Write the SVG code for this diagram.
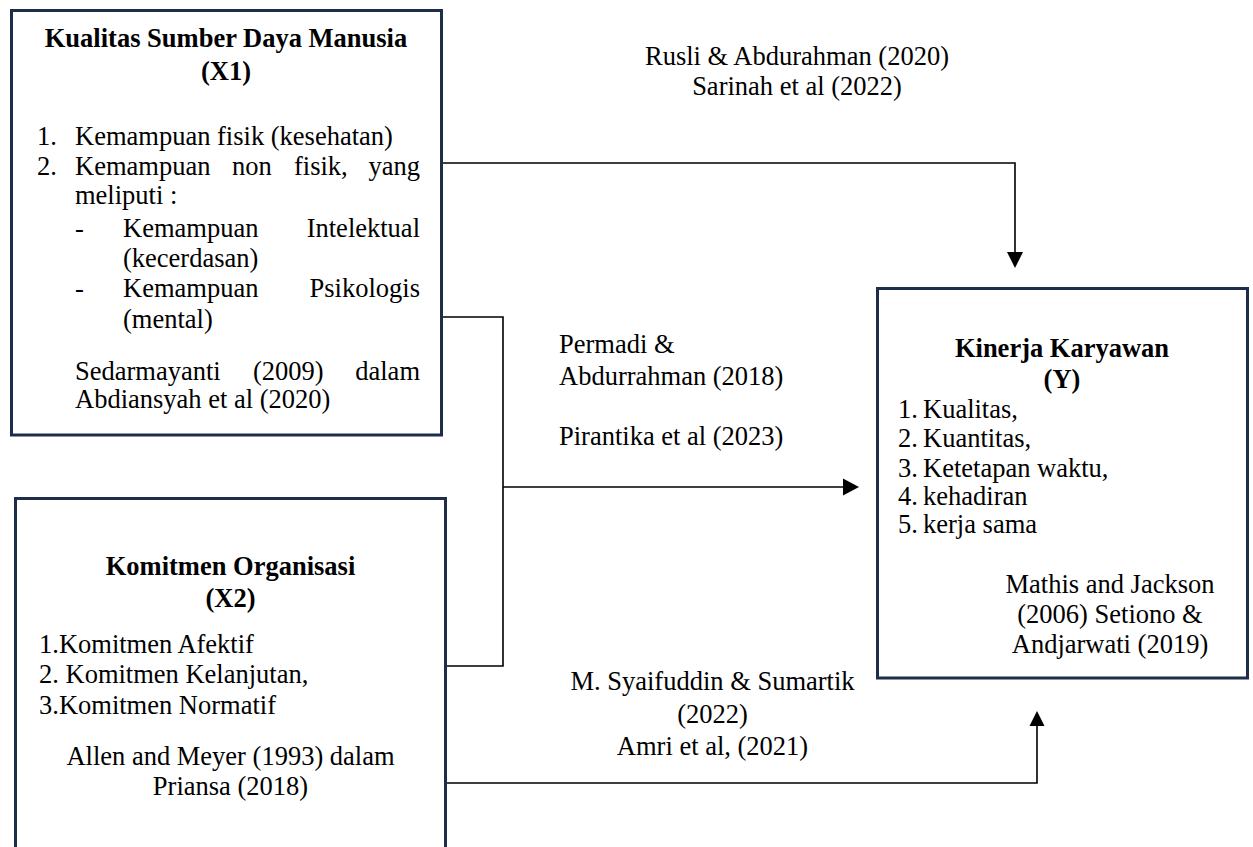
<svg xmlns="http://www.w3.org/2000/svg" width="1253" height="847" viewBox="0 0 1253 847">
<style>
.box{fill:#fff;stroke:#1d2d4a;stroke-width:3}
text{font-family:"Liberation Serif","Times New Roman",serif;font-size:26.5px;fill:#000}
.b{font-weight:bold}
.c{text-anchor:middle}
.e{text-anchor:end}
.ln{fill:none;stroke:#000;stroke-width:1.6}
</style>
<defs>
<marker id="ah" viewBox="0 0 10 10" refX="10" refY="5" markerWidth="10" markerHeight="10" markerUnits="userSpaceOnUse" orient="auto">
<path d="M0,0 L10,5 L0,10 Z" fill="#000"/>
</marker>
</defs>
<rect width="1253" height="847" fill="#fff"/>
<g id="connectors">
<polyline class="ln" points="442,163 1015,163 1015,252"/>
<path d="M1007,252 L1023,252 L1015,268 Z" fill="#000"/>
<polyline class="ln" points="442,317 503,317 503,666 445,666"/>
<line class="ln" x1="503" y1="487" x2="844" y2="487"/>
<path d="M843,478.5 L859,487 L843,495.5 Z" fill="#000"/>
<polyline class="ln" points="446,783 1037,783 1037,726"/>
<path d="M1029.5,726 L1044.5,726 L1037,711 Z" fill="#000"/>
</g>
<g id="node-x1">
<rect class="box" x="11.5" y="10.5" width="430" height="424.5"/>
<text class="b c" x="226" y="47">Kualitas Sumber Daya Manusia</text>
<text class="b c" x="226" y="80">(X1)</text>
<text x="37" y="145">1.</text>
<text x="75" y="145">Kemampuan fisik (kesehatan)</text>
<text x="37" y="175">2.</text>
<text x="75" y="175">Kemampuan</text>
<text x="232" y="175">non</text>
<text x="294" y="175">fisik,</text>
<text class="e" x="420" y="175">yang</text>
<text x="75" y="204">meliputi :</text>
<text x="75" y="237">-</text>
<text x="123" y="237">Kemampuan</text>
<text class="e" x="420" y="237">Intelektual</text>
<text x="123" y="267">(kecerdasan)</text>
<text x="75" y="297">-</text>
<text x="123" y="297">Kemampuan</text>
<text class="e" x="420" y="297">Psikologis</text>
<text x="123" y="328">(mental)</text>
<text x="75" y="380">Sedarmayanti</text>
<text x="253" y="380">(2009)</text>
<text class="e" x="420" y="380">dalam</text>
<text x="75" y="408">Abdiansyah et al (2020)</text>
</g>
<g id="node-x2">
<rect class="box" x="15.5" y="498.5" width="430" height="400"/>
<text class="b c" x="230.5" y="575">Komitmen Organisasi</text>
<text class="b c" x="230.5" y="607">(X2)</text>
<text x="39" y="653">1.Komitmen Afektif</text>
<text x="39" y="683">2. Komitmen Kelanjutan,</text>
<text x="39" y="714">3.Komitmen Normatif</text>
<text class="c" x="230.5" y="765">Allen and Meyer (1993) dalam</text>
<text class="c" x="230.5" y="795">Priansa (2018)</text>
</g>
<g id="node-y">
<rect class="box" x="877.5" y="288.5" width="370" height="389.5"/>
<text class="b c" x="1062" y="357">Kinerja Karyawan</text>
<text class="b c" x="1062" y="388">(Y)</text>
<text x="898" y="418">1.</text><text x="923" y="418">Kualitas,</text>
<text x="898" y="447">2.</text><text x="923" y="447">Kuantitas,</text>
<text x="898" y="477">3.</text><text x="923" y="477">Ketetapan waktu,</text>
<text x="898" y="505">4.</text><text x="923" y="505">kehadiran</text>
<text x="898" y="533">5.</text><text x="923" y="533">kerja sama</text>
<text class="c" x="1110" y="593">Mathis and Jackson</text>
<text class="c" x="1110" y="623">(2006) Setiono &amp;</text>
<text class="c" x="1110" y="653">Andjarwati (2019)</text>
</g>
<g id="labels">
<text class="c" x="797" y="65">Rusli &amp; Abdurahman (2020)</text>
<text class="c" x="797" y="95">Sarinah et al (2022)</text>
<text x="559" y="353">Permadi &amp;</text>
<text x="559" y="385">Abdurrahman (2018)</text>
<text x="559" y="445">Pirantika et al (2023)</text>
<text class="c" x="712.5" y="690">M. Syaifuddin &amp; Sumartik</text>
<text class="c" x="712.5" y="723">(2022)</text>
<text class="c" x="712.5" y="755">Amri et al, (2021)</text>
</g>
</svg>
